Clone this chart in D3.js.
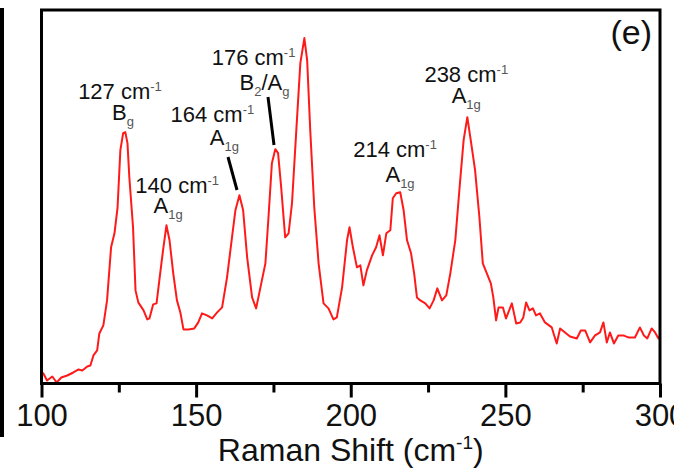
<!DOCTYPE html>
<html>
<head>
<meta charset="utf-8">
<script src="https://cdn.jsdelivr.net/npm/d3@7"></script>
<style>
  body { margin: 0; background: #fff; }
  svg { display: block; font-family: "Liberation Sans", Arial, sans-serif; }
</style>
</head>
<body>
<svg id="chart"></svg>
<script>
/////////////////////////////////////////////
////////////// Data /////////////////////////
/////////////////////////////////////////////

/// Raman shift (cm-1) ///
const shift = [
  100.0, 100.6, 101.8, 103.5, 104.9, 106.4, 108.3, 110.3, 112.0, 113.2, 114.8, 115.8,
  116.8, 118.0, 118.7, 120.0, 121.2, 122.5, 123.6, 124.6, 125.5, 126.4, 127.1, 127.8,
  128.4, 129.6, 130.4, 131.3, 133.0, 134.2, 134.9, 136.1, 137.2, 138.1, 139.3, 140.4,
  141.4, 142.6, 143.8, 144.9, 145.9, 147.5, 149.4, 150.7, 151.9, 153.5, 155.2, 156.8,
  158.4, 160.0, 161.6, 162.7, 164.0, 165.2, 166.5, 168.1, 169.4, 170.8, 172.4, 173.4,
  174.5, 175.6, 176.5, 177.5, 178.8, 179.9, 181.0, 182.4, 183.7, 185.0, 185.9, 186.9,
  188.2, 189.6, 191.2, 192.8, 194.4, 195.5, 197.2, 198.8, 199.6, 200.7, 202.0, 203.1,
  204.1, 205.2, 206.9, 208.2, 209.3, 210.4, 211.5, 212.8, 213.6, 214.7, 216.0, 217.1,
  218.2, 219.5, 220.5, 221.4, 222.5, 224.1, 225.5, 226.8, 228.0, 229.5, 230.9, 232.2,
  233.8, 235.2, 236.5, 237.7, 238.8, 240.2, 241.6, 242.7, 244.0, 245.3, 246.1, 247.0,
  247.8, 249.2, 250.2, 252.1, 253.5, 254.8, 255.8, 256.7, 257.8, 258.9, 259.9, 261.2,
  262.8, 265.0, 266.6, 267.7, 269.3, 270.9, 273.1, 274.4, 275.8, 277.4, 279.0, 280.6,
  281.7, 282.8, 283.8, 285.1, 286.5, 288.1, 289.8, 291.9, 293.5, 294.8, 295.9, 297.3,
  298.4, 299.5, 300.0
];

/// intensity (a.u.) at each shift ///
const intensity = [
  110, 100, 30, 70, 10, 60, 80, 110, 140, 130, 170, 180,
  280, 330, 500, 580, 830, 1360, 1500, 1760, 2330, 2500, 2510, 2400,
  2060, 1560, 930, 810, 730, 640, 650, 790, 800, 1030, 1330, 1580,
  1430, 1100, 830, 710, 540, 540, 550, 610, 700, 680, 650, 710,
  760, 1060, 1460, 1730, 1880, 1730, 1260, 860, 750, 960, 1200, 1660,
  2200, 2340, 2300, 1960, 1460, 1500, 1800, 2530, 3200, 3450, 3230, 2530,
  1760, 1200, 800, 750, 640, 660, 960, 1430, 1560, 1360, 1160, 1180,
  980, 1130, 1280, 1360, 1480, 1280, 1500, 1530, 1850, 1900, 1910, 1730,
  1430, 1300, 1100, 860, 830, 800, 750, 830, 950, 830, 880, 1100,
  1430, 1960, 2430, 2660, 2430, 2130, 1660, 1200, 1100, 1000, 860, 630,
  760, 760, 650, 800, 600, 610, 660, 810, 730, 750, 680, 700,
  610, 560, 400, 550, 510, 470, 450, 530, 530, 410, 480, 510,
  610, 410, 510, 400, 480, 480, 460, 460, 560, 480, 450, 550,
  510, 450, 480
];

/// assigned peaks ///
const peakShift = [127, 140, 164, 176, 214, 238];
const peakMode = ["Bg", "A1g", "A1g", "B2/Ag", "A1g", "A1g"];

/// axis ticks ///
const majorTicks = [100, 150, 200, 250, 300];
const minorTicks = [125, 175, 225, 275];

/////////////////////////////////////////////
////////////// Layout ///////////////////////
/////////////////////////////////////////////
const width = 674;
const height = 468;
const plot = { left: 41.5, right: 660, top: 10, bottom: 383.5 };
const axisFont = 31;
const labelFont = 22;
const smallFont = 13;

// label placement relative to each peak: [dx of wavenumber line, y of it, dx of mode, y of mode]
const labelLayout = [
  { dx: -5, y: 99, mdx: -2, my: 120 },
  { dx: 12, y: 193, mdx: 3, my: 213 },
  { dx: -27, y: 122, mdx: -15, my: 145 },
  { dx: -23, y: 65, mdx: -12, my: 90 },
  { dx: 1, y: 157, mdx: 6, my: 182 },
  { dx: -2, y: 82, mdx: -2, my: 103 }
];
// leader lines for 164 and 176 peaks
const leaderLines = [
  { peak: 164, x1: 228, y1: 157, x2: 237, y2: 190 },
  { peak: 176, x1: 268, y1: 97, x2: 274, y2: 145 }
];

function drawChart() {
  const svg = d3.select("#chart").attr("width", width).attr("height", height);

  const xScale = d3.scaleLinear().domain([100, 300]).range([plot.left, plot.right]);
  const yScale = d3.scaleLinear().domain([0, 3730]).range([plot.bottom, plot.top]);

  // edge of the neighbouring panel that was cropped in
  svg.append("rect").attr("x", 0).attr("y", 8).attr("width", 4).attr("height", 429).attr("fill", "#000");

  /// axes ///
  const xAxisMajor = g => g
    .attr("transform", `translate(0, ${plot.bottom})`)
    .call(d3.axisBottom(xScale).tickValues(majorTicks).tickSize(14).tickPadding(6).tickFormat(d3.format("d")))
    .call(g => g.select(".domain").remove())
    .call(g => g.selectAll("line").attr("stroke", "#000").attr("stroke-width", 3))
    .call(g => g.selectAll("text")
      .attr("fill", "#111")
      .style("font-size", axisFont + "px")
      .style("font-family", "\"Liberation Sans\", Arial, sans-serif"));
  svg.append("g").call(xAxisMajor);

  const xAxisMinor = g => g
    .attr("transform", `translate(0, ${plot.bottom})`)
    .call(d3.axisBottom(xScale).tickValues(minorTicks).tickSize(9).tickFormat(""))
    .call(g => g.select(".domain").remove())
    .call(g => g.selectAll("line").attr("stroke", "#000").attr("stroke-width", 3));
  svg.append("g").call(xAxisMinor);

  // axis title
  const title = svg.append("text")
    .attr("x", (plot.left + plot.right) / 2)
    .attr("y", 461)
    .attr("text-anchor", "middle")
    .attr("fill", "#111")
    .style("font-size", "32px");
  title.append("tspan").text("Raman Shift (cm");
  title.append("tspan").attr("dy", -12).style("font-size", "19px").text("-1");
  title.append("tspan").attr("dy", 12).text(")");

  /// spectrum ///
  const points = shift.map((s, i) => [s, intensity[i]]);
  const line = d3.line().x(d => xScale(d[0])).y(d => yScale(d[1]));
  svg.append("path")
    .datum(points)
    .attr("d", line)
    .attr("fill", "none")
    .attr("stroke", "#ff1a1a")
    .attr("stroke-width", 2)
    .attr("stroke-linejoin", "round");

  /// frame ///
  svg.append("rect")
    .attr("x", plot.left).attr("y", plot.top)
    .attr("width", plot.right - plot.left).attr("height", plot.bottom - plot.top)
    .attr("fill", "none").attr("stroke", "#000").attr("stroke-width", 3);

  /// peak labels ///
  const labelsG = svg.append("g").attr("fill", "#111").style("font-size", labelFont + "px");
  peakShift.forEach((p, i) => {
    const lay = labelLayout[i];
    const cx = xScale(p);
    const t = labelsG.append("text")
      .attr("x", cx + lay.dx).attr("y", lay.y).attr("text-anchor", "middle");
    t.append("tspan").text(p + " cm");
    t.append("tspan").attr("dy", -8).attr("fill", "#555").style("font-size", smallFont + "px").text("-1");

    // mode symbol with subscripts
    const m = labelsG.append("text")
      .attr("x", cx + lay.mdx).attr("y", lay.my).attr("text-anchor", "middle");
    const mode = peakMode[i];
    if (mode === "B2/Ag") {
      m.append("tspan").text("B");
      m.append("tspan").attr("dy", 6).attr("fill", "#555").style("font-size", smallFont + "px").text("2");
      m.append("tspan").attr("dy", -6).text("/A");
      m.append("tspan").attr("dy", 6).attr("fill", "#555").style("font-size", smallFont + "px").text("g");
    } else {
      m.append("tspan").text(mode[0]);
      m.append("tspan").attr("dy", 6).attr("fill", "#555").style("font-size", smallFont + "px").text(mode.slice(1));
    }
  });

  svg.append("g").selectAll("line")
    .data(leaderLines)
    .join("line")
      .attr("x1", d => d.x1).attr("y1", d => d.y1)
      .attr("x2", d => d.x2).attr("y2", d => d.y2)
      .attr("stroke", "#000").attr("stroke-width", 3);

  /// panel letter ///
  svg.append("text")
    .attr("x", 652).attr("y", 44)
    .attr("text-anchor", "end")
    .attr("fill", "#111")
    .style("font-size", "34px")
    .text("(e)");
}
drawChart();
</script>
</body>
</html>
